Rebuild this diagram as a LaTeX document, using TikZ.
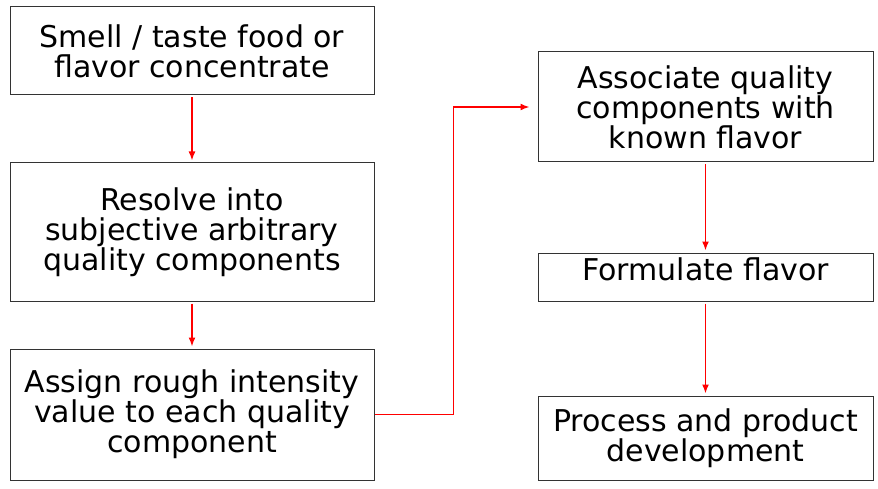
\documentclass[tikz,border=0pt]{standalone}
\usepackage{fontspec}
\setmainfont{DejaVu Sans}
\usepackage{xcolor}
\usetikzlibrary{arrows.meta,positioning}

\begin{document}
\begin{tikzpicture}[
    x=1pt, y=-1pt,
    procbox/.style={rectangle, draw=black!80, line width=1pt, align=center, inner sep=2pt, font=\fontsize{30}{30}\selectfont},
    leftbox/.style={procbox, minimum width=364pt},
    rightbox/.style={procbox, minimum width=335pt},
    arrow/.style={->,>={Latex[length=9pt,width=7pt]},red,line width=1.6pt,shorten >=2pt,shorten <=2pt}
]

\useasboundingbox (0,0) rectangle (878,489);

% Left column
\node[leftbox, minimum height=88pt] (smell) at (192,51) {Smell / taste food or\\flavor concentrate};
\node[leftbox, minimum height=138pt, below=67pt of smell] (resolve) {Resolve into\\subjective arbitrary\\quality components};
\node[leftbox, minimum height=131pt, below=47pt of resolve] (assign) {Assign rough intensity\\value to each quality\\component};

% Right column
\node[rightbox, minimum height=110pt] (associate) at (705.5,107) {Associate quality\\components with\\known flavor};
\node[rightbox, minimum height=48pt, text depth=16pt, below=90pt of associate] (formulate) {Formulate flavor};
\node[rightbox, minimum height=84pt, below=94pt of formulate] (develop) {Process and product\\development};

% Connections
\draw[arrow] (smell) -- (resolve);
\draw[arrow] (resolve) -- (assign);
\draw[arrow, shorten <=0pt, shorten >=8pt] (assign.east) -- ++(79,0) |- (associate.west);
\draw[arrow] (associate) -- (formulate);
\draw[arrow] (formulate) -- (develop);

\end{tikzpicture}
\end{document}
